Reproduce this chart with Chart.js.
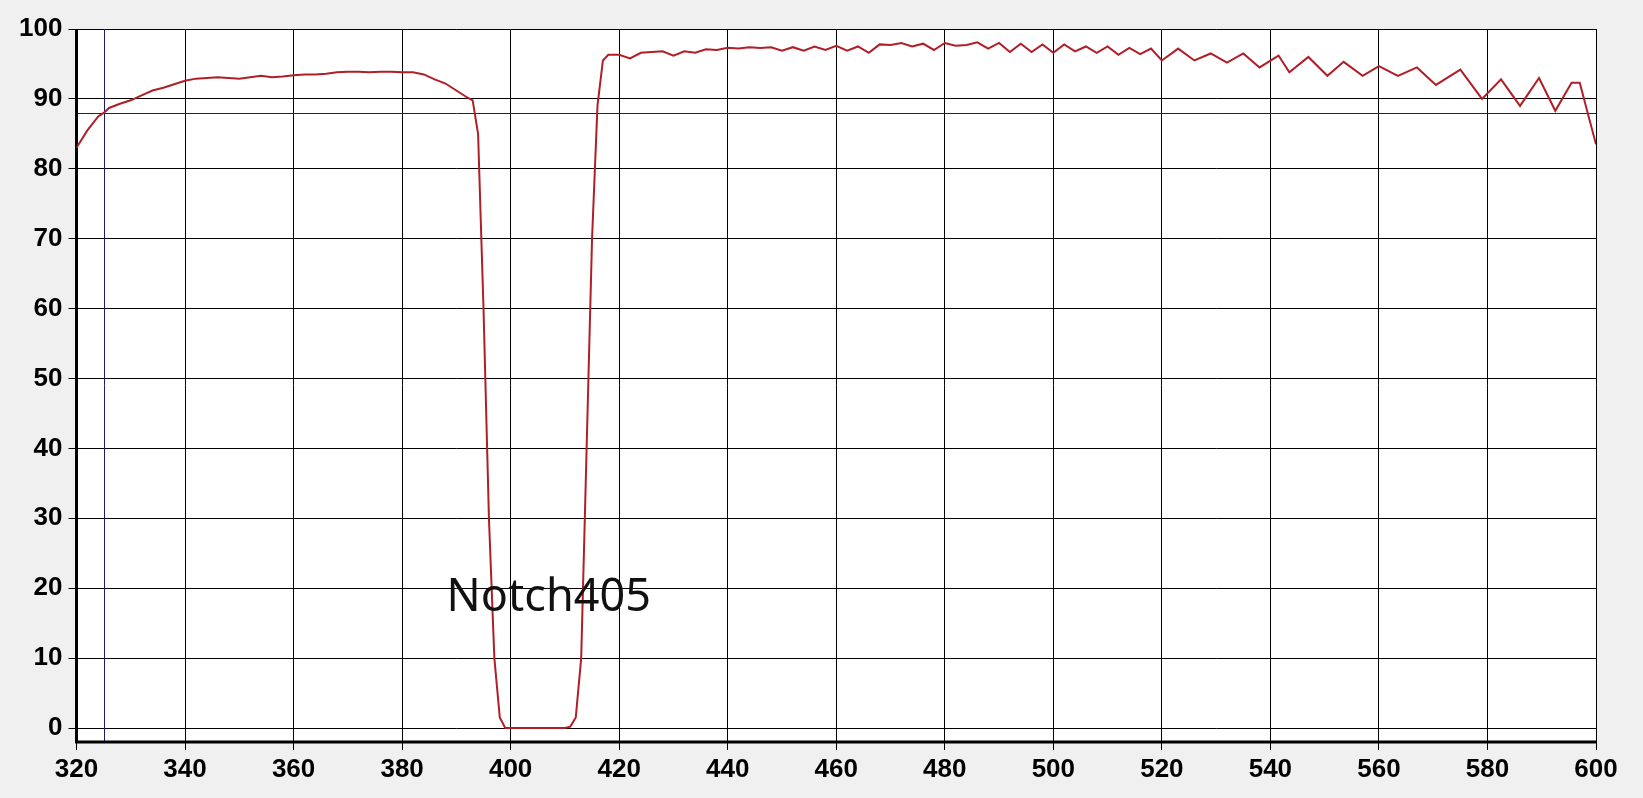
<!DOCTYPE html>
<html><head><meta charset="utf-8">
<script src="https://cdn.jsdelivr.net/npm/chart.js@4"></script>
<style>html,body{margin:0;padding:0;background:#f0f0f0;}#w{width:1643px;height:798px;}</style>
</head><body><div id="w"><canvas id="c"></canvas></div>
<script>
const wavelengths = [320,322,324,325,326,328,330,332,334,336,338,340,342,344,346,348,350,352,354,356,358,360,362,364,366,368,370,372,374,376,378,380,382,384,386,388,390,392,393,394,395,396,397,398,399,400,405,410,411,412,413,414,415,416,417,418,420,422,424,426,428,430,432,434,436,438,440,442,444,446,448,450,452,454,456,458,
460,462,464,466,468,470,472,474,476,478,480,482,484,486,488,490,492,494,496,498,500,502,504,506,508,510,512,514,516,518,520,
523,526,529,532,535,538,541.5,543.5,547,550.5,553.5,557,560,563.5,567,570.5,575,579,582.5,586,589.5,592.5,595.5,597,600];
const transmission = [83,85.5,87.5,88,88.7,89.3,89.8,90.5,91.2,91.6,92.1,92.6,92.9,93,93.1,93,92.9,93.1,93.3,93.1,93.2,93.4,93.5,93.5,93.6,93.8,93.9,93.9,93.8,93.9,93.9,93.8,93.8,93.5,92.8,92.2,91.2,90.2,89.8,85,60,30,10,1.5,0,0,0,0,0.2,1.5,10,40,70,89,95.5,96.3,96.3,95.8,96.6,96.7,96.8,96.2,96.8,96.6,97.1,97.0,97.3,97.2,97.4,97.3,97.4,96.9,97.4,96.9,97.5,97.0,
97.6,96.9,97.5,96.6,97.8,97.7,98.0,97.5,97.9,97.0,98.0,97.6,97.7,98.1,97.2,98.0,96.7,97.9,96.7,97.8,96.6,97.8,96.8,97.5,96.6,97.5,96.3,97.3,96.4,97.2,95.5,
97.2,95.5,96.5,95.2,96.5,94.5,96.2,93.8,96.0,93.3,95.3,93.3,94.7,93.3,94.5,92.0,94.2,90.0,92.8,89.0,93.0,88.3,92.3,92.3,83.5];
const xTicks = [320,340,360,380,400,420,440,460,480,500,520,540,560,580,600];
const yTicks = [0,10,20,30,40,50,60,70,80,90,100];
const markerX = 325, markerY = 88;
const labelText = "Notch405";

const extras = {
  id:'extras',
  beforeDatasetsDraw(ch){
    const {ctx, chartArea:a, scales:{x,y}} = ch;
    ctx.save();
    ctx.strokeStyle='#1c1c6a'; ctx.lineWidth=1;
    const px = Math.round(x.getPixelForValue(markerX))+0.5;
    const py = Math.round(y.getPixelForValue(markerY))+0.5;
    ctx.beginPath(); ctx.moveTo(px,a.top); ctx.lineTo(px,a.bottom); ctx.stroke();
    ctx.beginPath(); ctx.moveTo(a.left,py); ctx.lineTo(a.right,py); ctx.stroke();
    ctx.strokeStyle='#000'; ctx.lineWidth=3;
    ctx.beginPath(); ctx.moveTo(a.left,a.top); ctx.lineTo(a.left,a.bottom); ctx.lineTo(a.right,a.bottom); ctx.stroke();
    ctx.restore();
  },
  afterDatasetsDraw(ch){
    const {ctx, scales:{x,y}} = ch;
    ctx.save();
    ctx.font='45px "Noto Sans"'; ctx.fillStyle='#111'; ctx.textBaseline='middle';
    ctx.fillText(labelText, x.getPixelForValue(388.2), y.getPixelForValue(18.6));
    ctx.restore();
  }
};
const bg = {id:'bg', beforeDraw(ch){const {ctx,chartArea:a}=ch; ctx.save(); ctx.fillStyle='#fff'; ctx.fillRect(a.left,a.top,a.right-a.left,a.bottom-a.top); ctx.restore();}};

new Chart(document.getElementById('c'),{
  type:'line',
  data:{datasets:[{data:wavelengths.map((w,i)=>({x:w,y:transmission[i]})),borderColor:'#b01e28',borderWidth:2,pointRadius:0,tension:0}]},
  options:{
    responsive:true, maintainAspectRatio:false, animation:false,
    layout:{padding:{top:29,right:47,left:0,bottom:0}},
    plugins:{legend:{display:false},tooltip:{enabled:false}},
    scales:{
      x:{type:'linear',min:320,max:600,
        afterBuildTicks(s){s.ticks=xTicks.map(v=>({value:v}));},
        afterFit(s){s.height=56;},
        grid:{color:'#000',lineWidth:1,drawTicks:true,tickLength:8,tickColor:'#000'},
        border:{display:false},
        ticks:{color:'#000',font:{family:'"Liberation Sans"',weight:'bold',size:26},padding:4,maxRotation:0}},
      y:{min:-2,max:100,
        afterBuildTicks(s){s.ticks=yTicks.map(v=>({value:v}));},
        afterFit(s){s.width=76.5;},
        grid:{color:'#000',lineWidth:1,tickLength:8,tickColor:'#000'},
        border:{display:false},
        ticks:{color:'#000',font:{family:'"Liberation Sans"',weight:'bold',size:26},padding:6}}
    }
  },
  plugins:[bg,extras]
});
</script></body></html>
